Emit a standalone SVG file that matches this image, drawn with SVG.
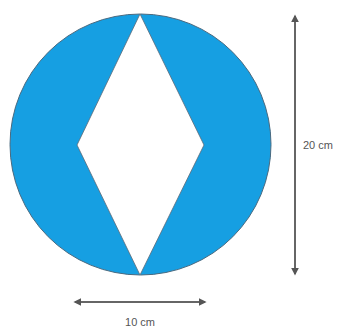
<svg xmlns="http://www.w3.org/2000/svg" width="342" height="329" viewBox="0 0 342 329">
<style>
.lbl{font-family:"Liberation Sans",Arial,sans-serif;font-size:11px;fill:#555;}
.dim{stroke:#666;stroke-width:2;fill:none;}
</style>
<defs>
<marker id="ah" viewBox="0 0 10 10" refX="8" refY="5" markerWidth="4" markerHeight="4" orient="auto-start-reverse">
<path d="M0,0 L10,5 L0,10 z" fill="#555"/>
</marker>
</defs>
<rect width="342" height="329" fill="#fff"/>
<g id="circle">
<circle cx="140.5" cy="144.5" r="130.5" fill="#169FE2" stroke="#4a6a80" stroke-width="1"/>
</g>
<g id="diamond">
<polygon points="140,14 204,145 140,275 77,145" fill="#fff" stroke="#5a6a78" stroke-width="0.8"/>
</g>
<g id="connectors">
<line class="dim" x1="295" y1="16" x2="295" y2="274" marker-start="url(#ah)" marker-end="url(#ah)"/>
<line class="dim" x1="75" y1="302" x2="205" y2="302" marker-start="url(#ah)" marker-end="url(#ah)"/>
</g>
<g id="labels">
<text class="lbl" x="303" y="149">20 cm</text>
<text class="lbl" x="140" y="326" text-anchor="middle">10 cm</text>
</g>
</svg>
